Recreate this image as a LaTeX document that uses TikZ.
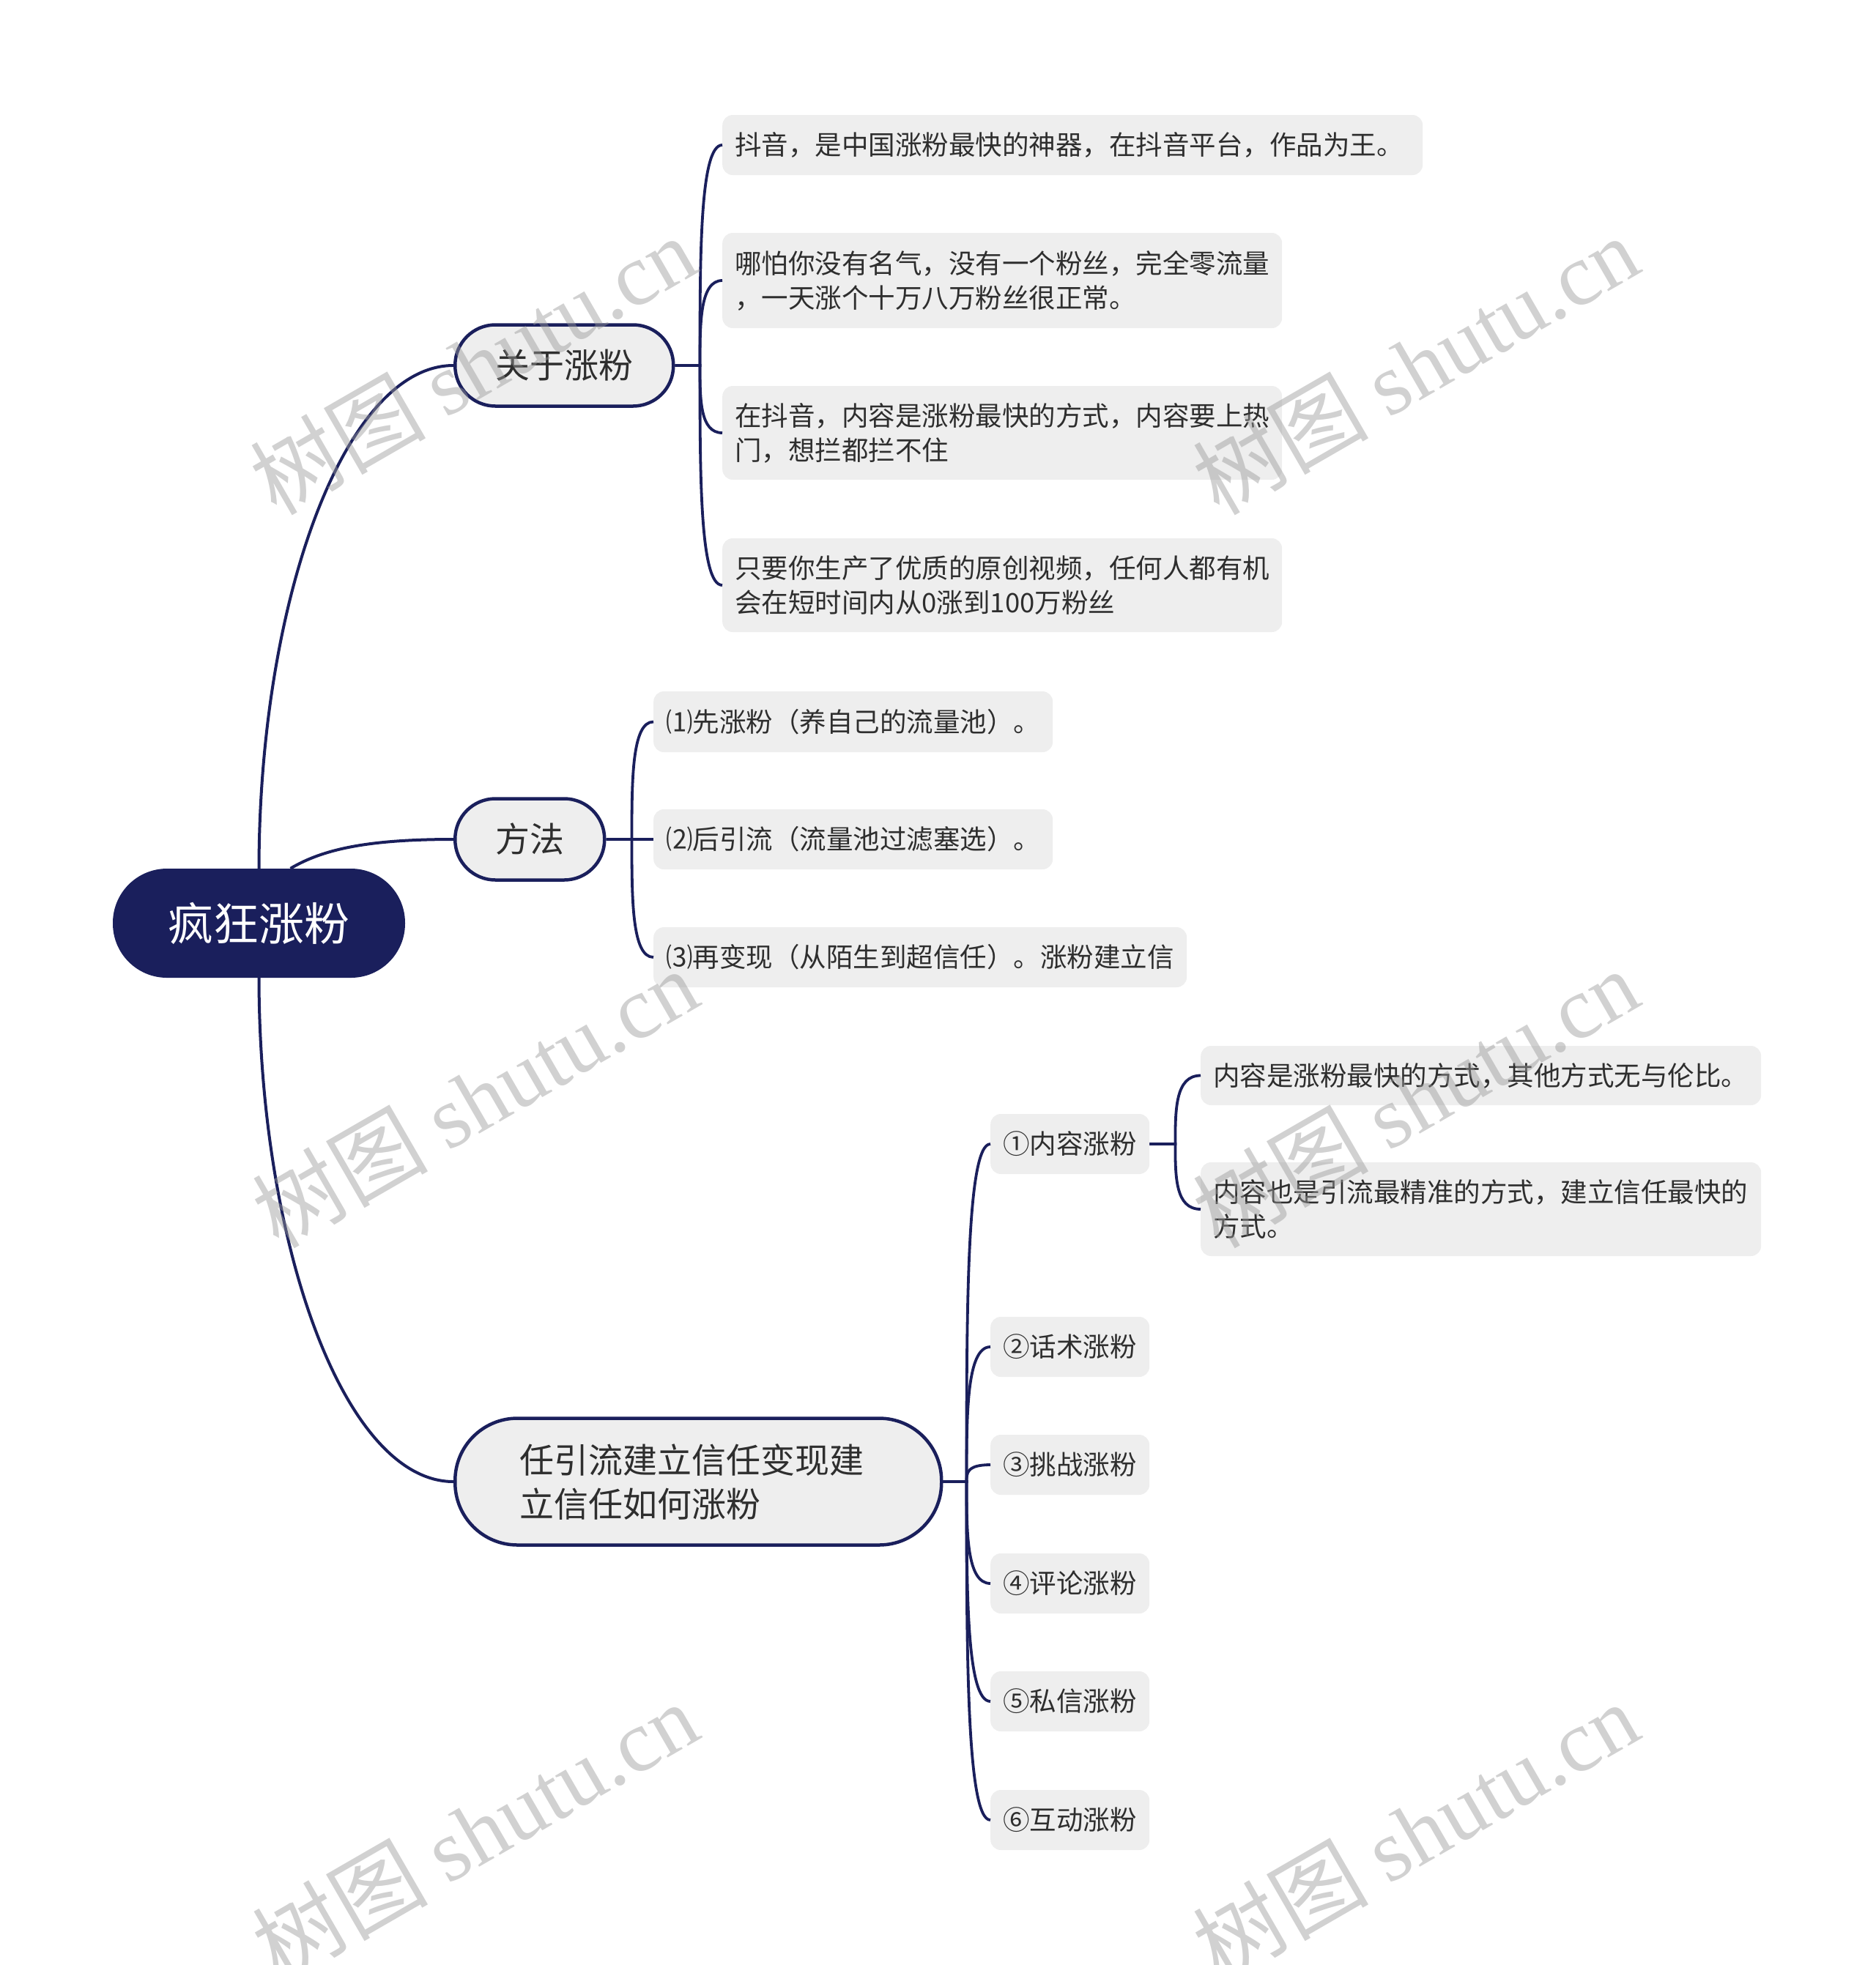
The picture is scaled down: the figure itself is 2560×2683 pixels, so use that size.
\documentclass[tikz,border=0pt]{standalone}
\usepackage{fontspec}
\setmainfont{Noto Sans CJK SC}
\newfontfamily\wmserif{Liberation Serif}
\usetikzlibrary{calc}
\definecolor{navy}{HTML}{1A1F5C}
\definecolor{leaf}{HTML}{EEEEEE}
\definecolor{txt}{HTML}{2E2E2E}
\begin{document}
\begin{tikzpicture}[x=1pt,y=-1pt,
  leafbox/.style={fill=leaf, rounded corners=14pt, anchor=west, inner xsep=17pt, inner ysep=0pt,
    align=left, text=txt, font=\fontsize{36.5}{47}\selectfont},
  topicbox/.style={draw=navy, line width=4.5pt, fill=leaf, anchor=west, inner sep=0pt,
    text=txt, font=\fontsize{47}{60}\selectfont},
  link/.style={draw=navy, line width=4pt},
  sublink/.style={draw=navy, line width=3.8pt},
  wmark/.style={rotate=30, text=black!40, text opacity=0.45, font=\fontsize{120}{120}\selectfont},
]
\useasboundingbox (0,0) rectangle (2560,2683);

% root
\node[fill=navy, rounded corners=74pt, minimum width=399pt, minimum height=149pt, inner sep=0pt,
  text=white, font=\fontsize{62}{70}\selectfont] (root) at (353.5,1260.5) {疯狂涨粉};

% main topics
\node[topicbox, rounded corners=55pt, minimum width=298pt, minimum height=111pt] (t1) at (619,499) {关于涨粉};
\node[topicbox, rounded corners=55pt, minimum width=204pt, minimum height=111pt] (t2) at (619,1146) {方法};
\node[topicbox, rounded corners=85pt, minimum width=664pt, minimum height=173pt, text width=488pt, align=left] (t3) at (619,2023) {任引流建立信任变现建\\立信任如何涨粉};

% children of t1
\node[leafbox, text width=922pt, minimum height=82pt] (l11) at (986,198) {抖音，是中国涨粉最快的神器，在抖音平台，作品为王。};
\node[leafbox, text width=730pt, minimum height=130pt] (l12) at (986,383) {哪怕你没有名气，没有一个粉丝，完全零流量\\，一天涨个十万八万粉丝很正常。};
\node[leafbox, text width=730pt, minimum height=128pt] (l13) at (986,591) {在抖音，内容是涨粉最快的方式，内容要上热\\门，想拦都拦不住};
\node[leafbox, text width=730pt, minimum height=128pt] (l14) at (986,799) {只要你生产了优质的原创视频，任何人都有机\\会在短时间内从0涨到100万粉丝};

% children of t2
\node[leafbox, text width=511pt, minimum height=83pt] (l21) at (892,985.5) {⑴先涨粉（养自己的流量池）。};
\node[leafbox, text width=511pt, minimum height=82pt] (l22) at (892,1146) {⑵后引流（流量池过滤塞选）。};
\node[leafbox, text width=694pt, minimum height=82pt] (l23) at (892,1307) {⑶再变现（从陌生到超信任）。涨粉建立信};

% children of t3
\node[leafbox, text width=183pt, minimum height=82pt] (l31) at (1352,1562) {①内容涨粉};
\node[leafbox, text width=183pt, minimum height=82pt] (l32) at (1352,1839) {②话术涨粉};
\node[leafbox, text width=183pt, minimum height=82pt] (l33) at (1352,2000) {③挑战涨粉};
\node[leafbox, text width=183pt, minimum height=82pt] (l34) at (1352,2162) {④评论涨粉};
\node[leafbox, text width=183pt, minimum height=82pt] (l35) at (1352,2323) {⑤私信涨粉};
\node[leafbox, text width=183pt, minimum height=82pt] (l36) at (1352,2485) {⑥互动涨粉};

% children of l31
\node[leafbox, text width=731pt, minimum height=81pt] (l41) at (1639,1468.5) {内容是涨粉最快的方式，其他方式无与伦比。};
\node[leafbox, text width=731pt, minimum height=128pt] (l42) at (1639,1651) {内容也是引流最精准的方式，建立信任最快的\\方式。};

% root connectors
\draw[link] (root.north) .. controls (354,821) and (470,499) .. (t1.west);
\draw[link] ($(root.north)+(43,0)$) .. controls (440,1160) and (500,1146) .. (t2.west);
\draw[link] (root.south) .. controls (354,1700) and (470,2023) .. (t3.west);

% spines
\coordinate (s1) at ($(t1.east)+(34,0)$);
\coordinate (s2) at ($(t2.east)+(35,0)$);
\coordinate (s3) at ($(t3.east)+(32,0)$);
\coordinate (s4) at ($(l31.east)+(35,0)$);

\foreach \c in {l11,l12,l13,l14}
  \draw[sublink] (t1.east) -- (s1) .. controls ($(s1)!0.5!(s1 |- \c.west)$) and (s1 |- \c.west) .. (\c.west);
\foreach \c in {l21,l22,l23}
  \draw[sublink] (t2.east) -- (s2) .. controls ($(s2)!0.5!(s2 |- \c.west)$) and (s2 |- \c.west) .. (\c.west);
\foreach \c in {l31,l32,l33,l34,l35,l36}
  \draw[sublink] (t3.east) -- (s3) .. controls ($(s3)!0.5!(s3 |- \c.west)$) and (s3 |- \c.west) .. (\c.west);
\foreach \c in {l41,l42}
  \draw[sublink] (l31.east) -- (s4) .. controls ($(s4)!0.5!(s4 |- \c.west)$) and (s4 |- \c.west) .. (\c.west);

% watermarks
\foreach \wx/\wy [count=\i] in {645/498, 1932/498, 648/1499, 1932/1499, 648/2500, 1932/2500}
  \node[wmark] (wm\i) at (\wx,\wy) {树图 {\wmserif shutu.cn}};
\end{tikzpicture}
\end{document}
